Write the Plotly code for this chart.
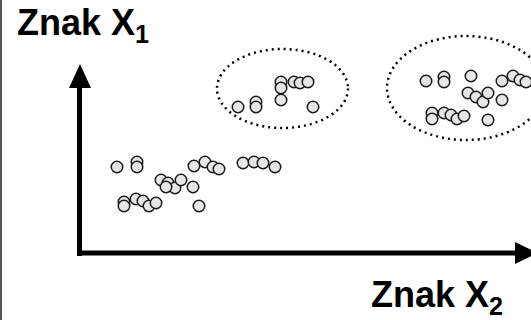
import plotly.graph_objects as go

# Data (pixel-like coordinate system: x to the right, y downward)
group_a_x = [117, 137, 137, 194, 205, 213, 219, 243, 254, 263, 275,
             161, 168, 175, 181, 193, 166,
             124, 124, 136, 143, 149, 156, 199]
group_a_y = [167, 162, 167, 166, 162, 167, 169, 163, 162, 163, 167,
             180, 183, 188, 180, 187, 187,
             202, 206, 199, 201, 206, 203, 206]

group_b_x = [238, 256, 256, 281, 281, 281, 294, 300, 308, 313]
group_b_y = [107, 102, 107, 82, 88, 100, 82, 83, 82, 107]

group_c_x = [426, 444, 444, 471, 502, 513, 520, 526,
             468, 476, 483, 488, 502,
             432, 432, 444, 451, 457, 464, 488]
group_c_y = [81, 77, 82, 76, 81, 76, 80, 82,
             93, 97, 102, 93, 100,
             113, 119, 113, 115, 119, 116, 120]

label_y_axis = "Znak X<sub>1</sub>"
label_x_axis = "Znak X<sub>2</sub>"

W, H = 531, 320
fig = go.Figure()

marker = dict(size=11.5, color="#e6e6e6", line=dict(color="#1a1a1a", width=1.5))
for gx, gy in [(group_a_x, group_a_y), (group_b_x, group_b_y), (group_c_x, group_c_y)]:
    fig.add_trace(go.Scatter(x=gx, y=gy, mode="markers", marker=marker,
                             hoverinfo="skip", showlegend=False))

shapes = []
# left border
shapes.append(dict(type="line", x0=1, x1=1, y0=0, y1=H, line=dict(color="#555555", width=2)))
# dotted ellipses
shapes.append(dict(type="circle", x0=217, x1=348, y0=49, y1=128,
                   line=dict(color="black", width=2.5, dash="2px,4px")))
shapes.append(dict(type="circle", x0=387, x1=545, y0=36, y1=140,
                   line=dict(color="black", width=2.5, dash="2px,4px")))
# axes arrows
shapes.append(dict(type="line", x0=79.5, x1=79.5, y0=256, y1=84, line=dict(color="black", width=5)))
shapes.append(dict(type="path", path="M 69 88 L 80 64 L 91 88 Z", fillcolor="black", line=dict(width=0)))
shapes.append(dict(type="line", x0=77, x1=518, y0=253, y1=253, line=dict(color="black", width=5)))
shapes.append(dict(type="path", path="M 515 242 L 538 253 L 515 264 Z", fillcolor="black", line=dict(width=0)))

annotations = [
    dict(x=15, y=25, text=label_y_axis, showarrow=False, xanchor="left", yanchor="middle",
         font=dict(family="Liberation Sans, Arial", size=36, color="black"), xref="x", yref="y"),
    dict(x=369, y=297, text=label_x_axis, showarrow=False, xanchor="left", yanchor="middle",
         font=dict(family="Liberation Sans, Arial", size=36, color="black"), xref="x", yref="y"),
]
for a in annotations:
    a["text"] = "<b>" + a["text"] + "</b>"

fig.update_layout(
    width=W, height=H, margin=dict(l=0, r=0, t=0, b=0),
    paper_bgcolor="white", plot_bgcolor="white",
    xaxis=dict(range=[0, W], visible=False, fixedrange=True),
    yaxis=dict(range=[H, 0], visible=False, fixedrange=True),
    shapes=shapes, annotations=annotations,
)
fig.write_html("out.html", config={"displayModeBar": False},
               post_script="document.body.style.margin='0';document.body.style.overflow='hidden';")
